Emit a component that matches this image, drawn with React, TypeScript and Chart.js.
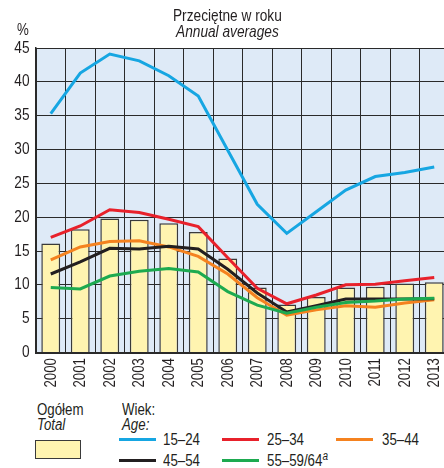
import React, { useEffect, useRef } from "react";
import { Chart, registerables } from "chart.js";

Chart.register(...registerables);

const years = ["2000", "2001", "2002", "2003", "2004", "2005", "2006", "2007", "2008", "2009", "2010", "2011", "2012", "2013"];
const total = [16.1, 18.2, 19.8, 19.6, 19.1, 17.8, 13.9, 9.6, 7.1, 8.2, 9.6, 9.7, 10.2, 10.4];
const age1524 = [35.3, 41.3, 44.1, 43.1, 40.9, 37.9, 29.9, 21.9, 17.6, 20.8, 24.0, 26.0, 26.6, 27.4];
const age2534 = [17.0, 18.7, 21.1, 20.7, 19.7, 18.6, 14.0, 9.5, 7.2, 8.5, 10.0, 10.1, 10.6, 11.1];
const age3544 = [13.7, 15.6, 16.4, 16.5, 15.6, 14.2, 11.6, 8.1, 5.5, 6.3, 6.9, 6.7, 7.3, 7.8];
const age4554 = [11.6, 13.4, 15.4, 15.3, 15.7, 15.3, 12.3, 8.8, 6.0, 6.9, 7.9, 7.9, 7.9, 7.95];
const age5564 = [9.6, 9.4, 11.3, 12.0, 12.4, 11.9, 9.0, 7.0, 5.8, 6.7, 7.4, 7.6, 7.9, 8.0];
const yTicks = [0, 5, 10, 15, 20, 25, 30, 35, 40, 45];

const FONT = "'Liberation Sans', Arial, sans-serif";
const SQUEEZE = 0.83;
const BLUE = "#16a6e2";
const RED = "#e8212b";
const ORANGE = "#f5821f";
const BLACK = "#231f20";
const GREEN = "#1daa50";
const BAR = "#fff4b0";
const PLOT_BG = "#deeaf7";
const TEXT = "#231f20";

const bgPlugin = {
  id: "plotBg",
  beforeDraw(chart: any) {
    const { ctx, chartArea } = chart;
    ctx.save();
    ctx.fillStyle = PLOT_BG;
    ctx.fillRect(chartArea.left, chartArea.top, chartArea.right - chartArea.left, chartArea.bottom - chartArea.top);
    ctx.restore();
  },
};

// Draws the scales' tick labels in a condensed face (narrow sans look).
const narrowTicksPlugin = {
  id: "narrowTicks",
  afterDraw(chart: any) {
    const { ctx } = chart;
    const xs = chart.scales.x;
    const ys = chart.scales.y;
    ctx.save();
    ctx.fillStyle = TEXT;
    ctx.font = `16.5px ${FONT}`;
    ctx.textBaseline = "middle";
    ctx.textAlign = "right";
    ys.ticks.forEach((t: any) => {
      const y = ys.getPixelForValue(t.value);
      ctx.save();
      ctx.translate(29.5, y);
      ctx.scale(SQUEEZE, 1);
      ctx.fillText(String(t.value), 0, 0);
      ctx.restore();
    });
    ctx.font = `16px ${FONT}`;
    xs.getLabels().forEach((lab: string, i: number) => {
      const x = xs.getPixelForValue(i);
      ctx.save();
      ctx.translate(x + 0.5, xs.top + 5.5);
      ctx.rotate(-Math.PI / 2);
      ctx.scale(SQUEEZE, 1);
      ctx.textAlign = "right";
      ctx.textBaseline = "middle";
      ctx.fillText(lab, 0, 0);
      ctx.restore();
    });
    ctx.restore();
  },
};

export default function App() {
  const ref = useRef<HTMLCanvasElement>(null);
  useEffect(() => {
    if (!ref.current) return;
    const line = (label: string, data: number[], color: string, order: number) => ({
      type: "line" as const,
      label,
      data,
      borderColor: color,
      backgroundColor: color,
      borderWidth: 3,
      pointRadius: 0,
      tension: 0,
      order,
    });
    const chart = new Chart(ref.current, {
      type: "bar",
      data: {
        labels: years,
        datasets: [
          line("15–24", age1524, BLUE, 1),
          line("25–34", age2534, RED, 2),
          line("55–59/64", age5564, GREEN, 3),
          line("45–54", age4554, BLACK, 4),
          line("35–44", age3544, ORANGE, 5),
          {
            type: "bar" as const,
            label: "Ogółem",
            data: total,
            backgroundColor: BAR,
            borderColor: "#3a3a3a",
            borderWidth: 1.5,
            barPercentage: 0.64,
            categoryPercentage: 1,
            order: 10,
          } as any,
        ],
      },
      options: {
        animation: false,
        responsive: false,
        maintainAspectRatio: false,
        layout: { padding: { top: 48, left: 0, right: 0, bottom: 0 } },
        plugins: { legend: { display: false }, tooltip: { enabled: false }, title: { display: false } },
        scales: {
          x: {
            offset: true,
            grid: { color: "#2a2a2a", lineWidth: 1, offset: true, drawTicks: false },
            border: { color: "#2a2a2a", width: 2 },
            ticks: { display: false, autoSkip: false },
            afterFit(scale: any) {
              scale.height = 47.5;
            },
          },
          y: {
            min: 0,
            max: 45,
            afterBuildTicks(scale: any) {
              scale.ticks = yTicks.map((v) => ({ value: v }));
            },
            grid: { color: "#2a2a2a", lineWidth: 1, drawTicks: false },
            border: { color: "#2a2a2a", width: 1.5 },
            ticks: { display: false },
            afterFit(scale: any) {
              scale.width = 36;
            },
          },
        },
      },
      plugins: [bgPlugin, narrowTicksPlugin],
    });
    return () => chart.destroy();
  }, []);

  const txt = (s: React.CSSProperties, origin = "left center"): React.CSSProperties => ({
    position: "absolute",
    fontFamily: FONT,
    fontSize: 16,
    lineHeight: "16px",
    color: TEXT,
    whiteSpace: "nowrap",
    transform: `scaleX(${SQUEEZE})`,
    transformOrigin: origin,
    ...s,
  });
  const sample = (left: number, top: number, color: string): React.CSSProperties => ({
    position: "absolute",
    left,
    top,
    width: 37,
    height: 3,
    background: color,
  });

  return (
    <div style={{ position: "fixed", left: 0, top: 0, width: 449, height: 468, background: "#fff", overflow: "hidden" }}>
      <canvas ref={ref} width={449} height={400} style={{ position: "absolute", left: 0, top: 0, width: 449, height: 400 }} />
      <div style={txt({ left: 0, width: 455, textAlign: "center", top: 6.5, fontSize: 16.5 }, "227px center")}>Przeciętne w roku</div>
      <div style={txt({ left: 0, width: 455, textAlign: "center", top: 22.5, fontSize: 16.5, fontStyle: "italic" }, "227px center")}>Annual averages</div>
      <div style={txt({ left: 17, top: 22 })}>%</div>

      <div style={txt({ left: 37, top: 401.5 })}>Ogółem</div>
      <div style={txt({ left: 37, top: 416.5, fontStyle: "italic" })}>Total</div>
      <div style={{ position: "absolute", left: 35, top: 440, width: 44, height: 17, background: BAR, border: "1.5px solid #3a3a3a" }} />

      <div style={txt({ left: 122, top: 401.5 })}>Wiek:</div>
      <div style={txt({ left: 122, top: 416.5, fontStyle: "italic" })}>Age:</div>

      <div style={sample(119, 438, BLUE)} />
      <div style={txt({ left: 163, top: 431.5 })}>15–24</div>
      <div style={sample(222, 438, RED)} />
      <div style={txt({ left: 267, top: 431.5 })}>25–34</div>
      <div style={sample(336, 438, ORANGE)} />
      <div style={txt({ left: 382, top: 431.5 })}>35–44</div>
      <div style={sample(119, 459, BLACK)} />
      <div style={txt({ left: 163, top: 452.5 })}>45–54</div>
      <div style={sample(222, 459, GREEN)} />
      <div style={txt({ left: 267, top: 452.5 })}>
        55–59/64<sup style={{ fontStyle: "italic", fontSize: 12, lineHeight: "0", verticalAlign: "6px" }}>a</sup>
      </div>
    </div>
  );
}
